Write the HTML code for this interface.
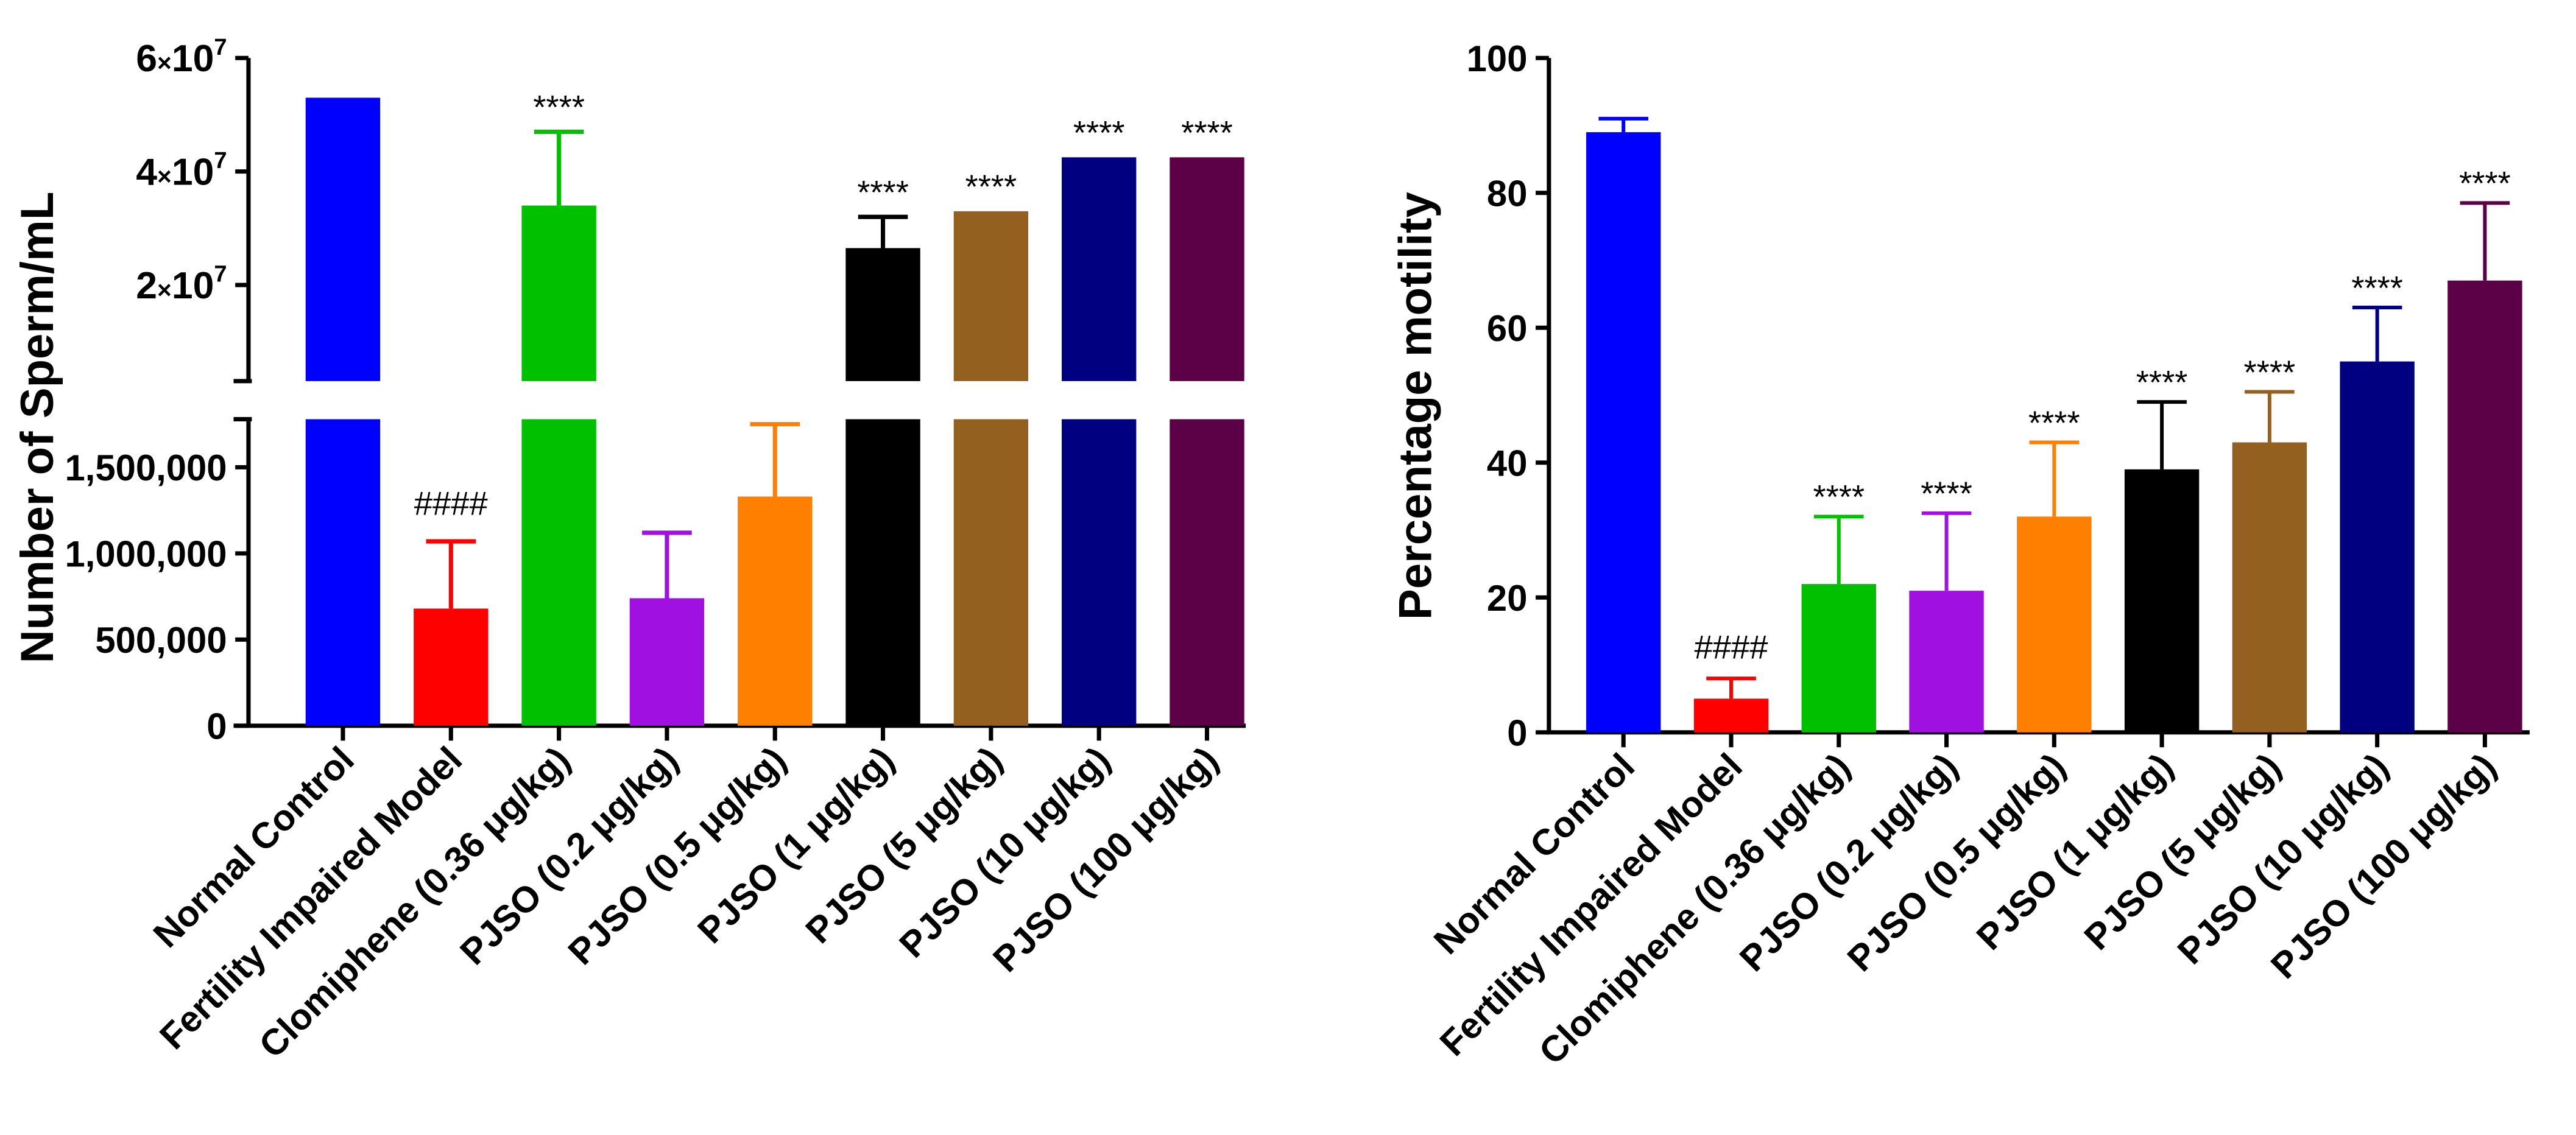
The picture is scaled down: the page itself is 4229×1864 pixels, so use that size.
<!DOCTYPE html>
<html><head><meta charset="utf-8"><style>
html,body{margin:0;padding:0;background:#fff;}
svg{display:block;}
text{font-family:"Liberation Sans",Arial,sans-serif;}
</style></head><body>
<svg id="fig" width="4229" height="1864" viewBox="0 0 1555 685" preserveAspectRatio="none" xmlns="http://www.w3.org/2000/svg">
<g id="left"></g>
<g id="right"></g>
</svg>
<script>
const categories=["Normal Control","Fertility Impaired Model","Clomiphene (0.36 \u03bcg/kg)","PJSO (0.2 \u03bcg/kg)","PJSO (0.5 \u03bcg/kg)","PJSO (1 \u03bcg/kg)","PJSO (5 \u03bcg/kg)","PJSO (10 \u03bcg/kg)","PJSO (100 \u03bcg/kg)"];
const colors=["#0000ff","#ff0000","#00c000","#a010e0","#ff8000","#000000","#936020","#000080","#5c0048"];
const spermMean=[53000000,680000,34000000,740000,1330000,26500000,33000000,42500000,42500000];
const spermErr=[0,1070000,47000000,1120000,1750000,32000000,0,0,0];
const spermMarks=["","####","****","","","****","****","****","****"];
const upperTicks=[20000000,40000000,60000000];
const upperTickLabels=["2","4","6"];
const lowerTicks=[0,500000,1000000,1500000];
const lowerTickLabels=["0","500,000","1,000,000","1,500,000"];
const motilMean=[89,5,22,21,32,39,43,55,67];
const motilErr=[91,8,32,32.5,43,49,50.5,63,78.5];
const motilMarks=["","####","****","****","****","****","****","****","****"];
const motilTicks=[0,20,40,60,80,100];
const motilTickLabels=["0","20","40","60","80","100"];

const NS="http://www.w3.org/2000/svg";
function mk(parent,tag,attrs,txt){const e=document.createElementNS(NS,tag);for(const k in attrs)e.setAttribute(k,attrs[k]);if(txt!==undefined)e.textContent=txt;parent.appendChild(e);return e;}

// ---------- LEFT CHART ----------
const L=document.getElementById('left');
const LX0=150, LXEND=752, BW=45, LSTEP=65.2, LC0=207;
const lx=i=>LC0+i*LSTEP;
const UTOP=35,UBOT=230;
const yU=v=>172-(v-20000000)/40000000*137;
const UMIN=20000000-(UBOT-172)/137*40000000;
const LTOP=253,LBASE=438;
const yL=v=>LBASE-v/500000*52;
const LMAX=(LBASE-LTOP)/52*500000;

let ax=mk(L,'path',{d:`M${LX0} ${UTOP} V${UBOT} M${LX0-9} ${UBOT} H${LX0+2} M${LX0-9} ${LTOP} H${LX0+2} M${LX0} ${LTOP} V${LBASE}`,stroke:'#000','stroke-width':2.6,fill:'none'});

let xa=mk(L,'line',{x1:LX0-9,y1:LBASE,x2:LXEND,y2:LBASE,stroke:'#000','stroke-width':2.6});

upperTicks.forEach((v,i)=>{
  const y=yU(v);
  mk(L,'line',{x1:LX0-8,y1:y,x2:LX0,y2:y,stroke:'#000','stroke-width':2.6});
  const t=mk(L,'text',{x:LX0-13,y:y+8,'text-anchor':'end','font-size':23,'font-weight':'bold'});
  
  mk(t,'tspan',{},upperTickLabels[i]);mk(t,'tspan',{'font-size':15},'\u00d7');mk(t,'tspan',{},'10');mk(t,'tspan',{'font-size':14,dy:-10},'7');
});
lowerTicks.forEach((v,i)=>{
  const y=yL(v);
  mk(L,'line',{x1:LX0-8,y1:y,x2:LX0,y2:y,stroke:'#000','stroke-width':2.6});
  const t=mk(L,'text',{x:LX0-13,y:y+8,'text-anchor':'end','font-size':22,'font-weight':'bold'},lowerTickLabels[i]);
  
});
let yt=mk(L,'text',{x:0,y:0,transform:'translate(32,258) rotate(-90)','text-anchor':'middle','font-size':28,'font-weight':'bold'},'Number of Sperm/mL');


categories.forEach((c,i)=>{
  const cx=lx(i),v=spermMean[i],col=colors[i];
  const g=mk(L,'g',{});
  
  const topL=Math.max(yL(Math.min(v,LMAX)),LTOP);
  mk(g,'rect',{x:cx-BW/2,y:topL,width:BW,height:LBASE-topL,fill:col});
  if(v>UMIN){const topU=yU(v);mk(g,'rect',{x:cx-BW/2,y:topU,width:BW,height:UBOT-topU,fill:col});}
  const e=spermErr[i];
  if(e>v){
    const ye=e>UMIN?yU(e):yL(e), yb=v>UMIN?yU(v):yL(v);
    const eb=mk(g,'path',{d:`M${cx} ${yb} V${ye} M${cx-15} ${ye} H${cx+15}`,stroke:col,'stroke-width':2.6,fill:'none'});
    
  }
  if(spermMarks[i]){
    const top=e>v?(e>UMIN?yU(e):yL(e)):(v>UMIN?yU(v):yL(v));
    const m=mk(L,'text',{x:cx,y:top-(spermMarks[i][0]=='#'?16:8),'text-anchor':'middle','font-size':20},spermMarks[i]);
    
  }
  mk(L,'line',{x1:cx,y1:LBASE,x2:cx,y2:LBASE+9,stroke:'#000','stroke-width':2.6});
  const lab=mk(L,'text',{x:0,y:0,transform:`translate(${cx+8},${LBASE+22}) rotate(-45)`,'text-anchor':'end','font-size':22,'font-weight':'bold'},c);
  
});

// ---------- RIGHT CHART ----------
const R=document.getElementById('right');
const RX0=935,RXEND=1527,RC0=980,RSTEP=65;
const rx=i=>RC0+i*RSTEP;
const RBASE=442,RTOP=35;
const ry=v=>RBASE-v/100*(RBASE-RTOP);
let rax=mk(R,'path',{d:`M${RX0} ${RTOP} V${RBASE} H${RXEND}`,stroke:'#000','stroke-width':2.6,fill:'none'});

motilTicks.forEach((v,i)=>{
  const y=ry(v);
  mk(R,'line',{x1:RX0-8,y1:y,x2:RX0,y2:y,stroke:'#000','stroke-width':2.6});
  const t=mk(R,'text',{x:RX0-13,y:y+8,'text-anchor':'end','font-size':22,'font-weight':'bold'},motilTickLabels[i]);
  
});
let ryt=mk(R,'text',{x:0,y:0,transform:'translate(864,245) rotate(-90)','text-anchor':'middle','font-size':28,'font-weight':'bold'},'Percentage motility');

categories.forEach((c,i)=>{
  const cx=rx(i),col=colors[i];
  const b=mk(R,'rect',{x:cx-BW/2,y:ry(motilMean[i]),width:BW,height:RBASE-ry(motilMean[i]),fill:col});
  
  const eb=mk(R,'path',{d:`M${cx} ${ry(motilMean[i])} V${ry(motilErr[i])} M${cx-15} ${ry(motilErr[i])} H${cx+15}`,stroke:col,'stroke-width':2.2,fill:'none'});
  
  if(motilMarks[i]){
    const m=mk(R,'text',{x:cx,y:ry(motilErr[i])-(motilMarks[i][0]=='#'?12:5),'text-anchor':'middle','font-size':20},motilMarks[i]);
    
  }
  mk(R,'line',{x1:cx,y1:RBASE,x2:cx,y2:RBASE+9,stroke:'#000','stroke-width':2.6});
  const lab=mk(R,'text',{x:0,y:0,transform:`translate(${cx+8},${RBASE+22}) rotate(-45)`,'text-anchor':'end','font-size':22,'font-weight':'bold'},c);
  
});
</script>
</body></html>
